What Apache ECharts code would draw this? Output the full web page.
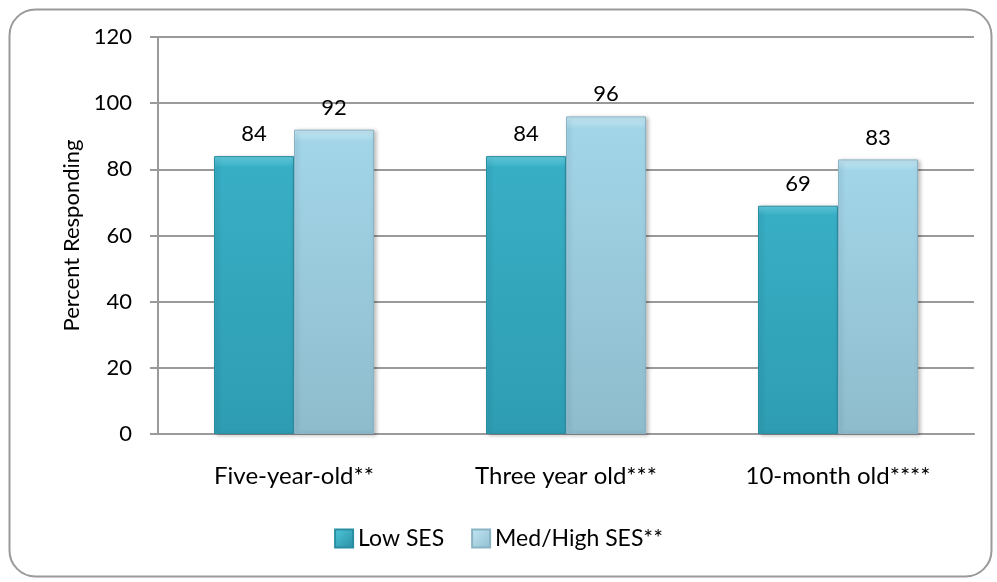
<!DOCTYPE html>
<html><head><meta charset="utf-8">
<script src="https://cdn.jsdelivr.net/npm/echarts@6/dist/echarts.min.js"></script>
<style>html,body{margin:0;padding:0;background:#fff}#c{width:997px;height:582px}</style>
</head><body><div id="c"></div>
<script>
const categories = ['Five-year-old**', 'Three year old***', '10-month old****'];
const seriesNames = ['Low SES', 'Med/High SES**'];
const lowSES = [84, 84, 69];
const medHighSES = [92, 96, 83];
const yTicks = [0, 20, 40, 60, 80, 100, 120];

const font = 'Lato, "Open Sans", sans-serif';
const chart = echarts.init(document.getElementById('c'));
const lowColor = new echarts.graphic.LinearGradient(0,0,0,1,[
  {offset:0,color:'#64cde0'},{offset:0.04,color:'#38aec4'},{offset:1,color:'#2e9db3'}]);
const medColor = new echarts.graphic.LinearGradient(0,0,0,1,[
  {offset:0,color:'#c6e8f4'},{offset:0.04,color:'#a2d5e8'},{offset:1,color:'#8ebccd'}]);
const lowLegend = new echarts.graphic.LinearGradient(0,0,1,1,[{offset:0,color:'#4fc8da'},{offset:1,color:'#2a8ea3'}]);
const medLegend = new echarts.graphic.LinearGradient(0,0,1,1,[{offset:0,color:'#c4e6f2'},{offset:1,color:'#8fc0d2'}]);

chart.setOption({
  animation:false,
  graphic:[{type:'rect',left:7,top:7,shape:{width:982,height:567,r:26},
    style:{fill:'none',stroke:'#9a9a9a',lineWidth:2},z:-1}],
  grid:{left:158,right:23,top:37,bottom:148},
  legend:{
    bottom:27,left:'center',itemWidth:18,itemHeight:18,itemGap:27,
    textStyle:{fontFamily:font,fontSize:23,color:'#000'},
    data:[{name:seriesNames[0],icon:'rect',itemStyle:{color:lowLegend}},
          {name:seriesNames[1],icon:'rect',itemStyle:{color:medLegend}}]
  },
  xAxis:{type:'category',data:categories,
    axisLine:{lineStyle:{color:'#9a9a9a',width:2}},
    axisTick:{show:false},
    axisLabel:{margin:30,fontFamily:font,fontSize:24,color:'#000'}},
  yAxis:{type:'value',min:0,max:120,interval:20,
    name:'Percent Responding',nameLocation:'middle',nameGap:72,nameRotate:90,
    nameTextStyle:{fontFamily:font,fontSize:22,color:'#000'},
    axisLine:{show:true,lineStyle:{color:'#9a9a9a',width:2}},
    axisTick:{show:true,length:8,lineStyle:{color:'#9a9a9a',width:2}},
    axisLabel:{margin:26,fontFamily:font,fontSize:22,color:'#000',
      formatter:v=>yTicks.includes(v)?String(v):''},
    splitLine:{lineStyle:{color:'#9a9a9a',width:2}}},
  series:[
    {name:seriesNames[0],type:'bar',data:lowSES,barWidth:80,barGap:'0%',
      itemStyle:{color:lowColor,borderColor:'#2a8ea3',borderWidth:1,shadowColor:'rgba(0,0,0,0.25)',shadowBlur:4,shadowOffsetX:2,shadowOffsetY:1},
      label:{show:true,position:'top',distance:11,fontFamily:font,fontSize:22,color:'#000'}},
    {name:seriesNames[1],type:'bar',data:medHighSES,barWidth:80,
      itemStyle:{color:medColor,borderColor:'#8ab4c3',borderWidth:1,shadowColor:'rgba(0,0,0,0.25)',shadowBlur:4,shadowOffsetX:2,shadowOffsetY:1},
      label:{show:true,position:'top',distance:11,fontFamily:font,fontSize:22,color:'#000'}}
  ]
});
</script></body></html>
